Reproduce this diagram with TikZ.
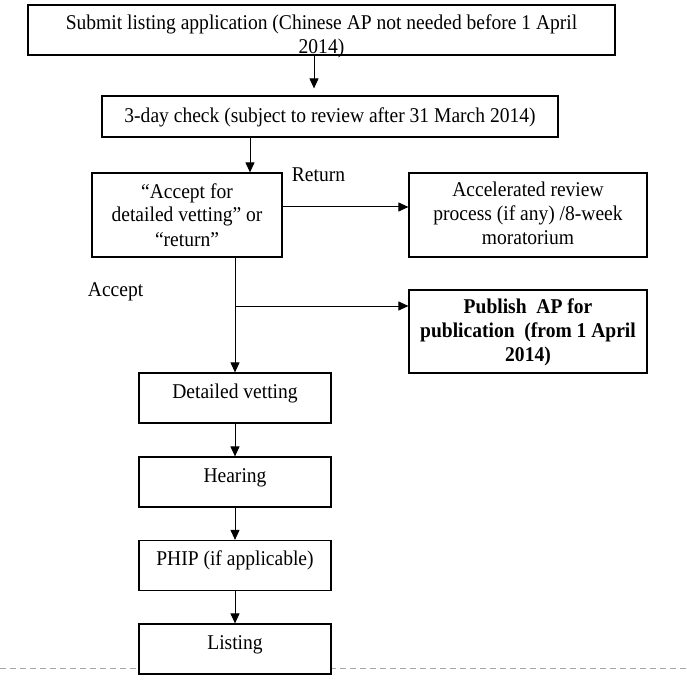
\documentclass[tikz,border=0pt]{standalone}
\usepackage{fontspec}
\setmainfont[FakeStretch=0.93]{Liberation Serif}
\usetikzlibrary{arrows.meta}
\newcommand\btxt[2]{\raisebox{#1}[0pt][0pt]{\begin{tabular}[t]{@{}c@{}}#2\end{tabular}}}
\begin{document}
\begin{tikzpicture}[x=1pt,y=-1pt,
  every node/.style={font=\fontsize{21}{24}\selectfont},
  boxstyle/.style={draw, fill=white, line width=1.2pt, inner sep=0pt, minimum height=50pt},
  arr/.style={line width=1pt, -{Triangle[length=10pt,width=9pt]}},
  lbl/.style={inner sep=0pt}]
\useasboundingbox (0,0) rectangle (686,692);
\draw[gray!70, line width=0.8pt, dash pattern=on 6pt off 4pt] (0,668) -- (686,668);
\node[boxstyle, minimum width=587pt, font=\fontsize{21}{24}\selectfont] (b1) at (321.5,30) {\btxt{0pt}{Submit listing application (Chinese AP not needed before 1 April\\2014)}};
\node[boxstyle, minimum width=456pt, minimum height=41pt] (b2) at (330,116.5) {\btxt{-6pt}{3-day check (subject to review after 31 March 2014)}};
\node[boxstyle, minimum width=190pt, minimum height=84pt] (b3) at (187,215) {\btxt{17pt}{“Accept for\\detailed vetting” or\\“return”}};
\node[boxstyle, minimum width=238pt, minimum height=84pt] (b4) at (528,215) {\btxt{18pt}{Accelerated review\\process (if any) /8-week\\moratorium}};
\node[boxstyle, minimum width=238pt, minimum height=83pt] (b5) at (528,331.5) {\btxt{18pt}{\bfseries Publish\ \ AP for\\\bfseries publication\ \ (from 1 April\\\bfseries 2014)}};
\node[boxstyle, minimum width=192pt] (b6) at (235,398) {\btxt{0pt}{Detailed vetting}};
\node[boxstyle, minimum width=192pt] (b7) at (235,482) {\btxt{0pt}{Hearing}};
\node[boxstyle, minimum width=192pt] (b8) at (235,565.5) {\btxt{0pt}{PHIP (if applicable)}};
\node[boxstyle, minimum width=192pt] (b9) at (235,649) {\btxt{0pt}{Listing}};
\node[lbl] (ret) at (318.5,175) {Return};
\node[lbl] (acc) at (115.6,292) {Accept};
\draw[arr, shorten >=7pt] ([xshift=-7.5pt]b1.south) -- ([xshift=-7.5pt]b1.south |- b2.north);
\draw[arr] ([xshift=-80pt]b2.south) -- ([xshift=-80pt]b2.south |- b3.north);
\draw[arr] ([yshift=8pt]b3.east) -- ([yshift=8pt]b3.east -| b4.west);
\draw[arr] (b3.south -| b6.north) -- (b6.north);
\coordinate (br) at (235,306);
\draw[arr] (br) -- (br -| b5.west);
\draw[arr] (b6) -- (b7);
\draw[arr] (b7) -- (b8);
\draw[arr] (b8) -- (b9);
\end{tikzpicture}
\end{document}
